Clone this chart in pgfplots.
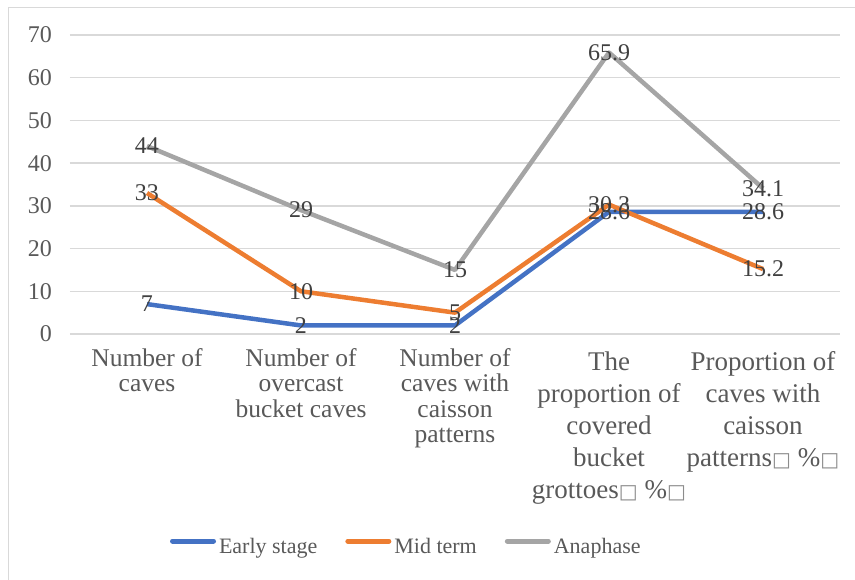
\documentclass[border=0pt]{standalone}
\usepackage{fontspec}
\setmainfont{Liberation Serif}
\newfontfamily\dejavu{DejaVu Sans}
\usepackage{pgfplots}
\pgfplotsset{compat=1.18}
\definecolor{cblue}{HTML}{4472C4}
\definecolor{corange}{HTML}{ED7D31}
\definecolor{cgray}{HTML}{A5A5A5}
\definecolor{gridc}{HTML}{D9D9D9}
\definecolor{tickc}{HTML}{595959}
\definecolor{labc}{HTML}{404040}
\definecolor{boxc}{HTML}{8C8C8C}
\newcommand\bx{{\dejavu\fontsize{20}{20}\selectfont\textcolor{boxc}{□}}}
\newcommand\lblA[1]{{\fontsize{25.5}{25.5}\selectfont\begin{tabular}{@{}c@{}}#1\end{tabular}}}
\newcommand\lblB[1]{{\fontsize{27}{32}\selectfont\begin{tabular}{@{}c@{}}#1\end{tabular}}}
\begin{document}
\begin{tikzpicture}
\path[use as bounding box] (0pt,0pt) rectangle (855pt,579pt);
\draw[gridc, line width=1pt] (8pt,-20pt) rectangle (880pt,571pt);
\begin{axis}[
  at={(70pt,245pt)}, anchor=south west, scale only axis,
  width=770pt, height=299pt,
  xmin=-0.5, xmax=4.5, ymin=0, ymax=70,
  ytick={0,10,...,70}, xtick={0,1,2,3,4},
  xticklabels={
    {\lblA{Number of\\caves}},
    {\lblA{Number of\\overcast\\bucket caves}},
    {\lblA{Number of\\caves with\\caisson\\patterns}},
    {\lblB{The\\proportion of\\covered\\bucket\\grottoes\bx\ \%\bx}},
    {\lblB{Proportion of\\caves with\\caisson\\patterns\bx\ \%\bx}}
  },
  axis line style={draw=none},
  major tick length=0pt,
  ymajorgrids, grid style={gridc, line width=1.3pt},
  /pgf/number format/assume math mode=true,
  yticklabel style={font=\fontsize{24}{24}\selectfont, text=tickc, anchor=east, inner sep=0pt, xshift=-18pt},
  xticklabel style={anchor=north, inner sep=0pt, yshift=-14pt, text=tickc},
  clip=false,
  nodes near coords,
  every node near coord/.append style={anchor=center, font=\fontsize{24}{24}\selectfont, text=labc, inner sep=0pt},
  legend columns=3,
  legend style={draw=none, fill=none, inner sep=0pt, outer sep=0pt,
    at={(0.1299,-0.7124)}, anchor=west,
    font=\fontsize{22}{22}\selectfont, text=tickc,
    nodes={inner sep=0pt},
    /tikz/every odd column/.append style={column sep=3pt},
    /tikz/every even column/.append style={column sep=28pt}},
  legend image code/.code={\draw[#1, line width=5pt, line cap=round] (2.5pt,6pt) -- (43.5pt,6pt);},
]
\addplot[cblue, line width=4.5pt, line join=round] coordinates {(0,7) (1,2) (2,2) (3,28.6) (4,28.6)};
\addlegendentry{Early stage}
\addplot[corange, line width=4.5pt, line join=round] coordinates {(0,33) (1,10) (2,5) (3,30.3) (4,15.2)};
\addlegendentry{Mid term}
\addplot[cgray, line width=4.5pt, line join=round] coordinates {(0,44) (1,29) (2,15) (3,65.9) (4,34.1)};
\addlegendentry{Anaphase}
\end{axis}
\end{tikzpicture}
\end{document}
